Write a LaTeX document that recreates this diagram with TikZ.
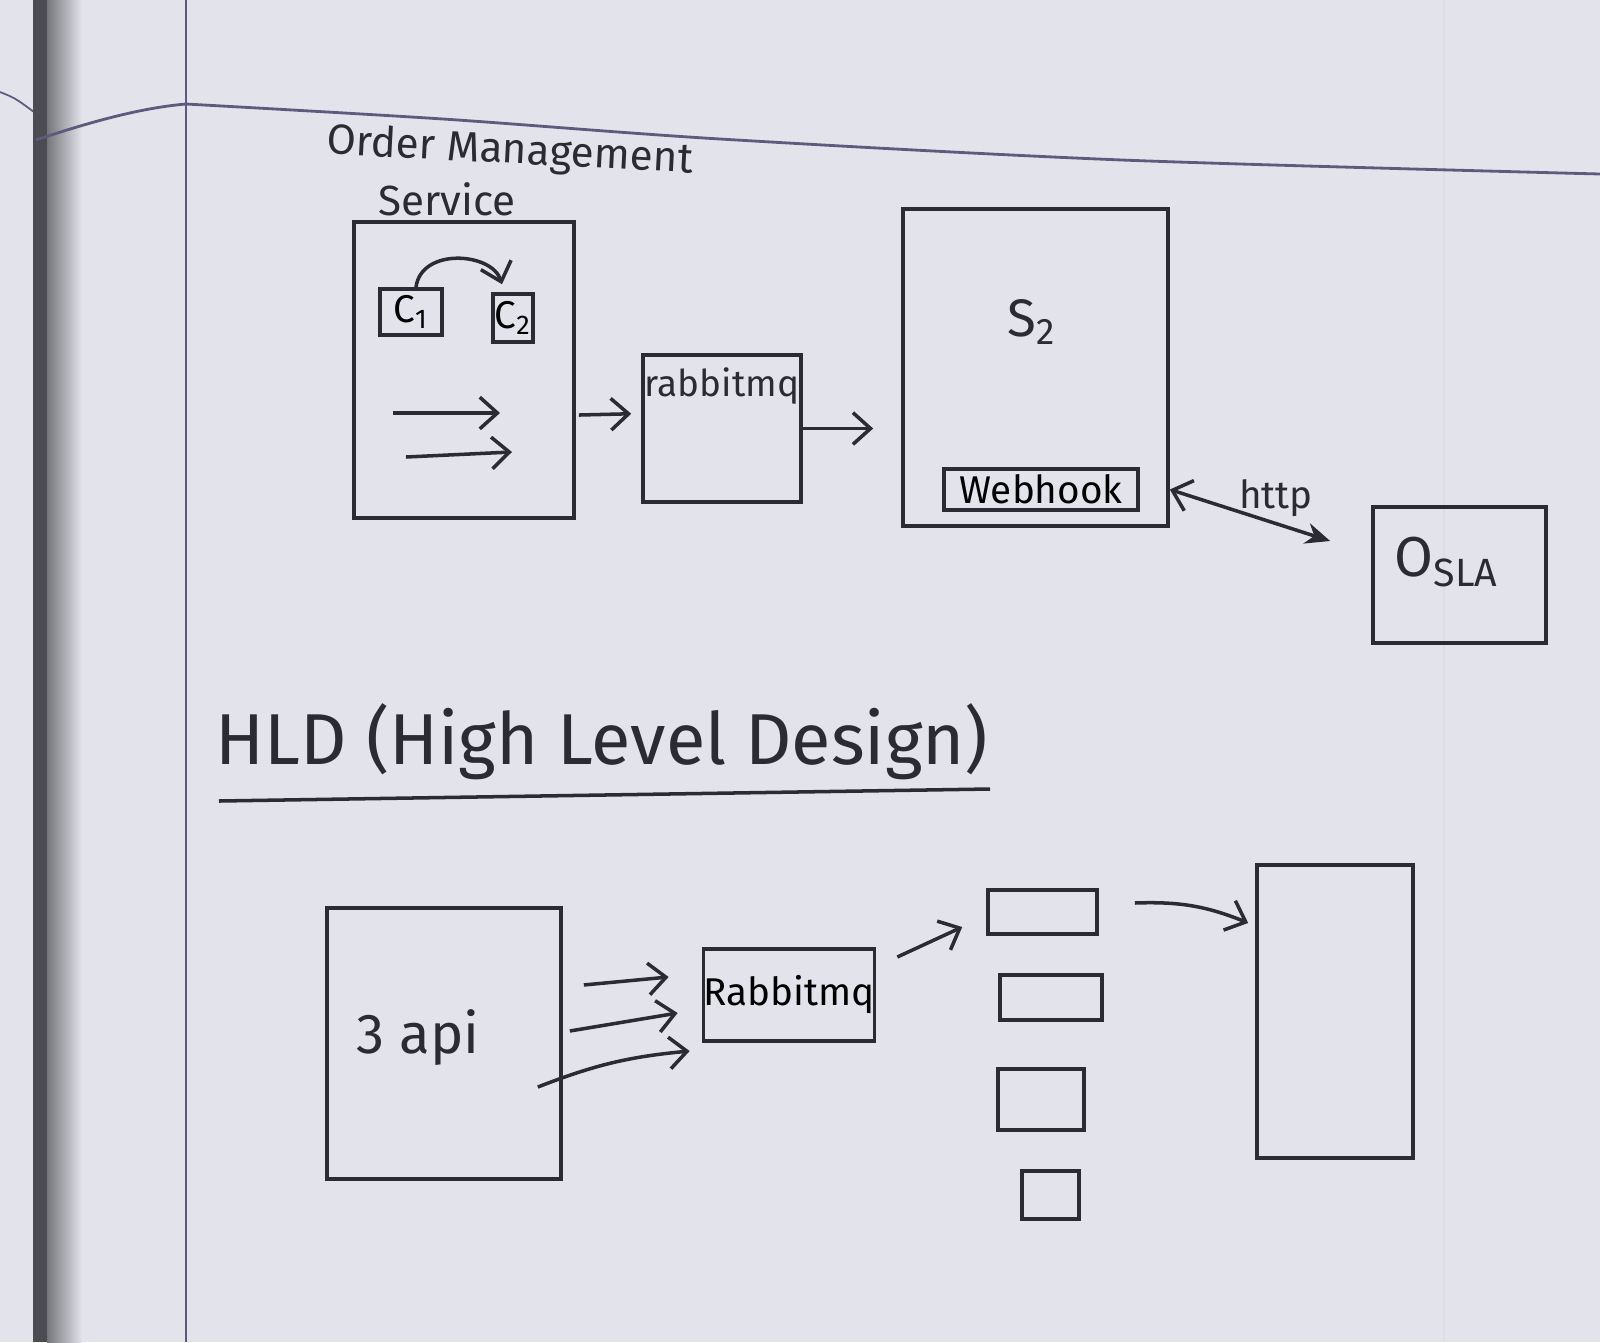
\documentclass[tikz,border=0pt]{standalone}
\usepackage{fontspec}
\setmainfont{Fira Sans}
\usetikzlibrary{arrows.meta}
\definecolor{paper}{HTML}{E3E4EB}
\definecolor{ink}{HTML}{2B2B33}
\definecolor{rulec}{HTML}{5E5A7E}
\begin{document}
\begin{tikzpicture}[x=0.01cm,y=-0.01cm,
  box/.style={draw=ink, line width=1pt, inner sep=0pt, rectangle},
  lab/.style={text=ink, inner sep=0pt},
  arr/.style={draw=ink, line width=1pt, -{Straight Barb[length=5pt,width=9pt]}},
  fs/.style={font=\fontsize{#1}{#1}\selectfont}]
\useasboundingbox (0,0) rectangle (1600,1342);
% paper
\fill[paper] (0,0) rectangle (1600,1342);
\draw[rulec, line width=0.5pt] (0,92) .. controls (15,98) .. (34,112);
\fill[ink!85] (33,0) rectangle (47,1342);
\shade[left color=ink!65, right color=paper] (47,0) rectangle (82,1342);
\draw[rulec, line width=0.7pt] (186,0) -- (186,1342);
\draw[rulec!20, line width=0.6pt] (1444,0) -- (1444,1342);
\draw[rulec, line width=0.8pt] (36,140) .. controls (90,122) and (140,108) .. (186,104);
\draw[rulec, line width=0.8pt] plot[smooth] coordinates {(186,104) (443,119) (720,139) (1122,160) (1600,174)};

% ---------- top sketch ----------
\node[lab, fs=12, rotate=-3] (omst1) at (510,152) {Order Management};
\node[lab, fs=12] (omst2) at (447,199) {Service};
\node[box, minimum width=2.2cm, minimum height=2.96cm] (oms) at (464,370) {};
\node[box, minimum width=.62cm, minimum height=.46cm, fs=11] (c1) at (411,312) {C\textsubscript{1}};
\node[box, minimum width=.40cm, minimum height=.48cm, fs=11] (c2) at (513,318) {C\textsubscript{2}};
\draw[arr] ([xshift=0.05cm]c1.north) .. controls +(5,-40) and +(-10,-32) .. ([xshift=-0.11cm,yshift=0.08cm]c2.north);
\coordinate (i1s) at (393,413);
\coordinate (i1e) at (500,413);
\coordinate (i2s) at (406,457);
\coordinate (i2e) at (512,452);
\draw[arr] (i1s) -- (i1e);
\draw[arr] (i2s) -- (i2e);

\node[box, minimum width=1.58cm, minimum height=1.47cm] (rab1) at (722,428.5) {};
\node[lab, fs=10.5] (rab1lab) at (722,386) {rabbitmq};
\draw[arr, shorten >=0.1cm] ([xshift=0.03cm,yshift=-0.45cm]oms.east) -- ([yshift=0.15cm]rab1.west);

\node[box, minimum width=2.65cm, minimum height=3.17cm] (s2) at (1035.5,367.5) {};
\node[lab, fs=15] (s2lab) at (1032,322) {S\textsubscript{2}};
\draw[arr, shorten >=0.28cm] (rab1.east) -- (rab1.east -| s2.west);
\node[box, minimum width=1.94cm, minimum height=.41cm, fs=11] (web) at (1041,489.5) {Webhook};

\node[box, minimum width=1.73cm, minimum height=1.36cm] (sla) at (1459.5,575) {};
\node[lab, fs=16] (slalab) at (1447,562) {O\textsubscript{SLA}};
\draw[draw=ink, line width=1pt, {Straight Barb[length=5pt,width=9pt]}-{Stealth[length=7pt,width=6pt]}]
  (web.east -| s2.east) -- ([xshift=-0.41cm,yshift=0.34cm]sla.west);
\node[lab, fs=11] (http) at (1276,498) {http};

% ---------- HLD ----------
\node[lab, fs=20.5] (hld) at (602,742) {HLD (High Level Design)};
\draw[ink, line width=1pt] (219,801) -- (990,789);

\node[box, minimum width=2.34cm, minimum height=2.71cm] (api) at (444,1043.5) {};
\node[lab, fs=16] (apilab) at (418,1038) {3 api};
\node[box, minimum width=1.66cm, minimum height=.92cm, fs=11] (rab2) at (789,995) {Rabbitmq};
\draw[arr] ([xshift=0.21cm,yshift=0.585cm]api.east) -- ([xshift=-0.33cm,yshift=0.18cm]rab2.west);
\draw[arr] ([xshift=0.07cm,yshift=0.125cm]api.east) -- ([xshift=-0.24cm,yshift=-0.18cm]rab2.west);
\draw[arr] ([xshift=-0.25cm,yshift=-0.435cm]api.east) to[bend left=8] ([xshift=-0.12cm,yshift=-0.56cm]rab2.west);

\node[box, minimum width=1.09cm, minimum height=.44cm] (q1) at (1042.5,912) {};
\node[box, minimum width=1.02cm, minimum height=.45cm] (q2) at (1051,997.5) {};
\node[box, minimum width=.86cm, minimum height=.61cm] (q3) at (1041,1099.5) {};
\node[box, minimum width=.57cm, minimum height=.48cm] (q4) at (1050.5,1195) {};
\draw[arr] ([xshift=0.21cm,yshift=0.38cm]rab2.east) -- ([xshift=-0.24cm,yshift=-0.15cm]q1.west);

\node[box, minimum width=1.56cm, minimum height=2.93cm] (big) at (1335,1011.5) {};
\draw[arr] ([xshift=0.36cm,yshift=0.09cm]q1.east) to[bend left=12] ([xshift=-0.07cm,yshift=0.885cm]big.west);
\end{tikzpicture}
\end{document}
